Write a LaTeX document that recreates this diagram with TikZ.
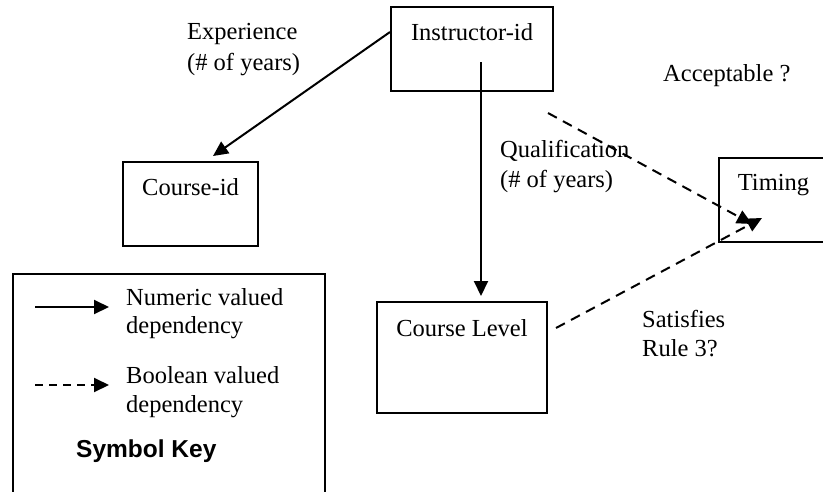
\documentclass[tikz,border=0pt]{standalone}
\usepackage{fontspec}
\setmainfont{Liberation Serif}
\newfontfamily\keyfont{Liberation Sans}
\usetikzlibrary{arrows.meta}
\begin{document}
\begin{tikzpicture}[x=1pt,y=-1pt,
  box/.style={draw, line width=2pt, inner sep=0pt, anchor=base, font=\fontsize{24.5}{29}\selectfont},
  txt/.style={inner sep=0pt, anchor=base west, font=\fontsize{24.5}{29}\selectfont},
  num/.style={line width=2pt, -{Triangle[length=15pt,width=14pt]}},
  bool/.style={num, dash pattern=on 10pt off 7pt}]
\useasboundingbox (0,0) rectangle (823,491);

% main boxes
\node[box, text height=33pt, text depth=51pt, minimum width=162pt] (instr) at (472,40) {Instructor-id};
\node[box, text height=33pt, text depth=51pt, minimum width=135pt] (cid) at (190.5,195) {Course-id};
\node[box, text height=34pt, text depth=77pt, minimum width=170pt] (cl) at (462,336) {Course Level};
\node[box, text height=32pt, text depth=52pt, minimum width=109pt] (tim) at (773.5,190) {Timing};

% labels
\node[txt] (exp1) at (187,39) {Experience};
\node[txt] (exp2) at (187,70) {(\# of years)};
\node[txt] (qua1) at (500,157) {Qualification};
\node[txt] (qua2) at (500,187) {(\# of years)};
\node[txt] (acc) at (663,81) {Acceptable ?};
\node[txt] (sat1) at (642,327) {Satisfies};
\node[txt] (sat2) at (642,356) {Rule 3?};

% connectors
\draw[num] ([yshift=-26pt]instr.north west) -- ([xshift=22.5pt,yshift=5pt]cid.north);
\draw[num] ([xshift=9pt,yshift=-56pt]instr.north) -- ([xshift=19pt,yshift=5pt]cl.north);
\draw[bool] ([xshift=-6pt,yshift=-21pt]instr.south east) -- ([xshift=34pt,yshift=19pt]tim.south west);
\draw[bool] ([xshift=8pt,yshift=-27pt]cl.north east) -- ([xshift=44pt,yshift=25pt]tim.south west);

% symbol key
\node[draw, line width=2pt, inner sep=0pt, minimum width=312pt, minimum height=240pt] (key) at (169,394) {};
\coordinate (n1) at (35,307);
\coordinate (n2) at (109,307);
\coordinate (b1) at (35,385);
\coordinate (b2) at (109,385);
\draw[num] (n1) -- (n2);
\draw[num, dash pattern=on 8pt off 6pt] (b1) -- (b2);
\node[txt] (k1) at (126,305) {Numeric valued};
\node[txt] (k2) at (126,333) {dependency};
\node[txt] (k3) at (126,383) {Boolean valued};
\node[txt] (k4) at (126,412) {dependency};
\node[txt, font=\keyfont\bfseries\fontsize{24.5}{29}\selectfont] (k5) at (76,457) {Symbol Key};
\end{tikzpicture}
\end{document}
